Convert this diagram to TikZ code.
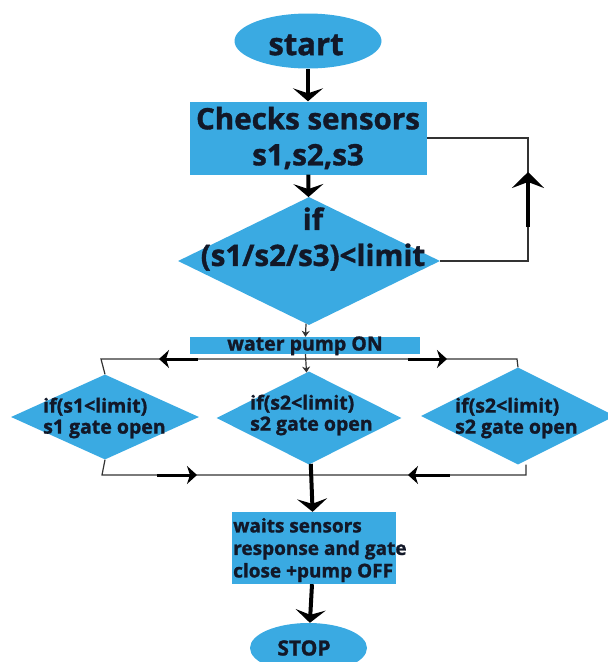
\documentclass[tikz,border=0pt]{standalone}
\usepackage{fontspec}
\setmainfont{Open Sans}[BoldFeatures={FakeBold=1.2}]
\usetikzlibrary{shapes.geometric, arrows.meta}
\definecolor{flowblue}{RGB}{58,170,226}
\definecolor{ink}{RGB}{18,24,40}

\begin{document}
\begin{tikzpicture}[x=1pt, y=-1pt,
  box/.style={fill=flowblue, inner sep=0pt, text=ink},
  term/.style={box, ellipse},
  proc/.style={box, rectangle},
  dec/.style={box, diamond},
  word/.style={text=ink, inner sep=0pt},
  big/.style={font=\bfseries\fontsize{29.5}{36}\selectfont},
  small/.style={font=\bfseries\fontsize{19.5}{21}\selectfont},
  wire/.style={line width=1.2pt, draw=black!80},
  flow/.style={line width=4pt, -{Stealth[length=13pt, width=30pt, inset=5pt]}},
  midflow/.style={line width=3pt, -{Stealth[length=10pt, width=18pt, inset=3pt]}},
  thinflow/.style={wire, -{Stealth[length=6pt, width=8pt]}}]
  \useasboundingbox (0,0) rectangle (608,662);

  \node[term, minimum width=147, minimum height=55] (start) at (308,41) {};
  \node[word, font=\bfseries\fontsize{31}{36}\selectfont] (start_text) at (306,45) {start};
  \node[proc, big, align=center, minimum width=237, minimum height=73] (check) at (308,138) {Checks sensors\\s1,s2,s3};
  \node[dec, minimum width=262, minimum height=128] (cond) at (309,261) {};
  \node[word, big, align=center] (cond_text) at (313,239) {if\\(s1/s2/s3)<limit};
  \node[proc, small, minimum width=230, minimum height=17, text height=13pt, text depth=3pt] (pump) at (305,345.5) {water pump ON};

  \node[dec, minimum width=188, minimum height=85] (gate_one) at (105,417) {};
  \node[dec, minimum width=185, minimum height=93] (gate_two) at (309,418) {};
  \node[dec, minimum width=194, minimum height=97] (gate_three) at (518,416) {};
  \node[word, small, align=left, anchor=west] (gate_one_text) at (43,418) {if(s1<limit)\\s1 gate open};
  \node[word, small, align=left, anchor=west] (gate_two_text) at (250,415) {if(s2<limit)\\s2 gate open};
  \node[word, small, align=left, anchor=west] (gate_three_text) at (455,418) {if(s2<limit)\\s2 gate open};

  \node[proc, minimum width=164, minimum height=72] (wait) at (314,548) {};
  \node[word, align=left, anchor=west, font=\bfseries\fontsize{19}{22.5}\selectfont] (wait_text) at (233,550) {waits sensors\\response and gate\\close +pump OFF};
  \node[term, minimum width=117, minimum height=50] (stop) at (308.5,648) {};
  \node[word, font=\bfseries\fontsize{21}{24}\selectfont] (stop_text) at (304,648) {STOP};

  \coordinate (split_left) at (101,359);
  \coordinate (split_right) at (517,359);
  \coordinate (merge_left) at (102,475);
  \coordinate (merge_right) at (526,475);
  \coordinate (loop_low) at (528,261);
  \coordinate (loop_high) at (528,138);

  \draw[flow] (start) -- (check);
  \draw[flow] (check) -- (cond);
  \draw[thinflow] (cond) -- (pump);
  \draw[wire] (cond.east) -- (loop_low) -- (loop_high) -- (check.east);
  \draw[wire] (gate_one.north) -- (split_left) -- (split_right) -- (gate_three.north);
  \draw[thinflow] (pump) -- (gate_two);
  \draw[wire] (gate_one.south) -- (merge_left) -- (merge_right) -- (gate_three.south -| merge_right);
  \draw[flow] (gate_two) -- (wait);
  \draw[flow] (wait) -- (stop);

  % thick arrows sitting on the thin lines
  \coordinate (up_a) at (528,227);
  \coordinate (up_b) at (528,172);
  \draw[flow, -{Stealth[length=16pt, width=32pt, inset=6pt]}] (up_a) -- (up_b);
  \coordinate (sl_a) at (198,359);
  \coordinate (sl_b) at (159,359);
  \coordinate (sr_a) at (408,359);
  \coordinate (sr_b) at (447,359);
  \coordinate (ml_a) at (157,475);
  \coordinate (ml_b) at (197,475);
  \coordinate (mr_a) at (450,475);
  \coordinate (mr_b) at (408,475);
  \draw[midflow] (sl_a) -- (sl_b);
  \draw[midflow] (sr_a) -- (sr_b);
  \draw[midflow] (ml_a) -- (ml_b);
  \draw[midflow] (mr_a) -- (mr_b);
\end{tikzpicture}
\end{document}
